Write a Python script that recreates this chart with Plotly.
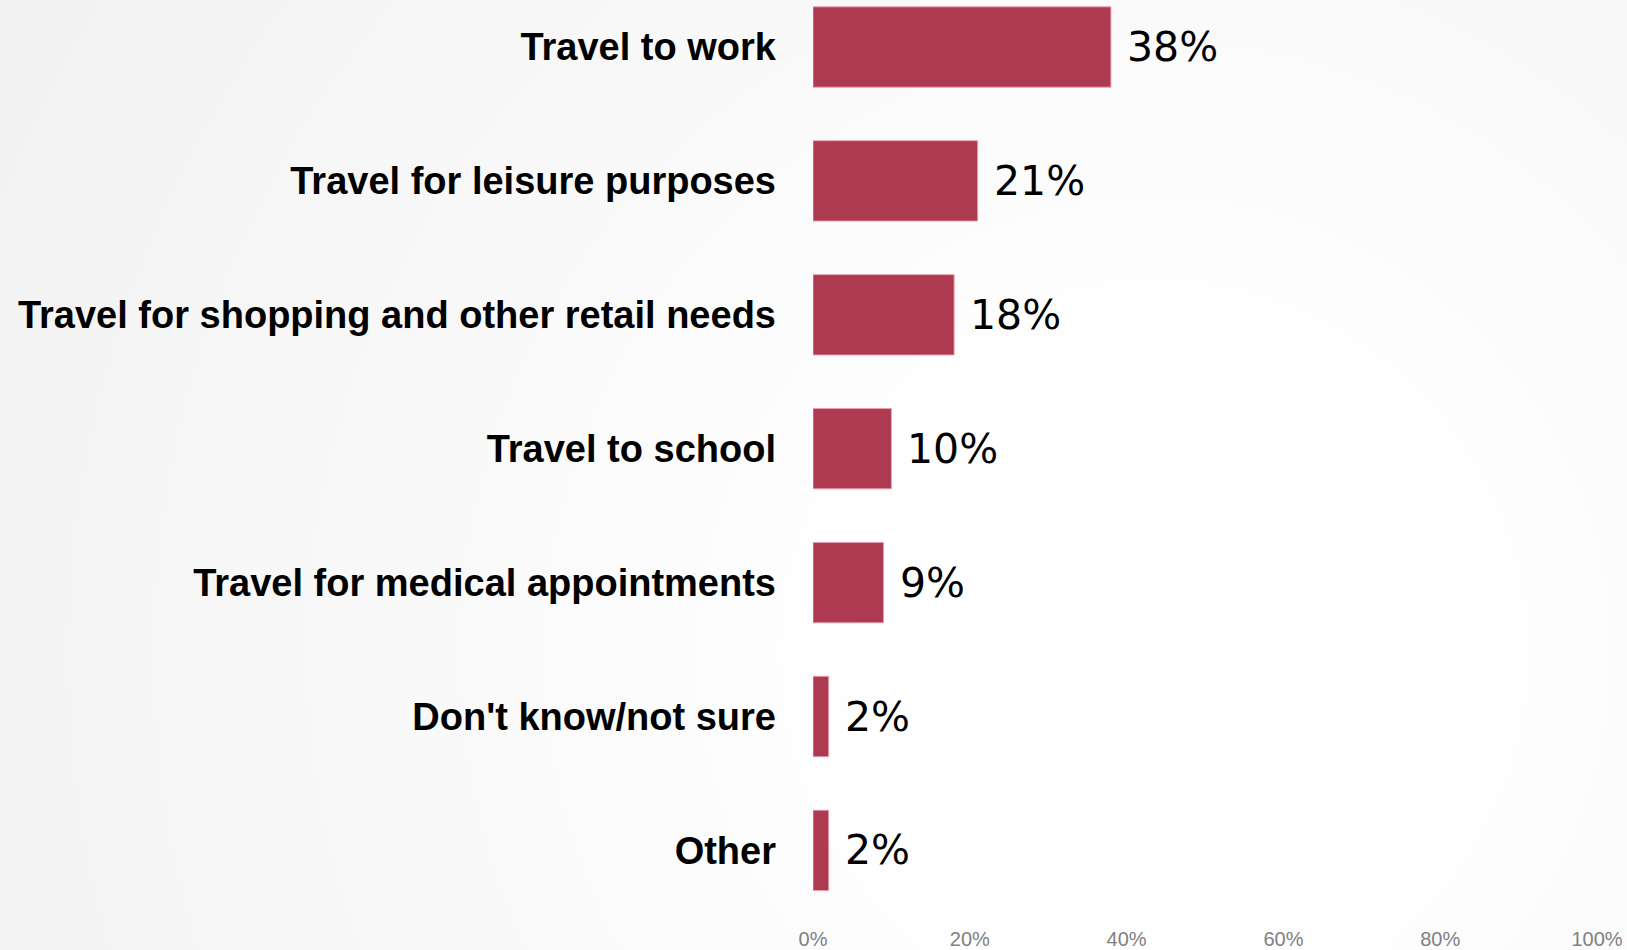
import base64
import struct
import zlib

import numpy as np
import plotly.graph_objects as go

# Survey responses: main purpose of travel
categories = [
    "Travel to work",
    "Travel for leisure purposes",
    "Travel for shopping and other retail needs",
    "Travel to school",
    "Travel for medical appointments",
    "Don't know/not sure",
    "Other",
]
shares = [38, 21, 18, 10, 9, 2, 2]
tick_values = [0, 20, 40, 60, 80, 100]
tick_labels = ["0%", "20%", "40%", "60%", "80%", "100%"]

W, H = 1627, 950
M_LEFT, M_RIGHT, M_TOP, M_BOTTOM = 813, 30, 0, 40
PLOT_W = W - M_LEFT - M_RIGHT
PLOT_H = H - M_TOP - M_BOTTOM

BAR_COLOR = "#AD3A50"


def png_data_uri(pixels):
    """Encode an (h, w) uint8 grayscale array as a PNG data URI."""
    h, w = pixels.shape
    raw = b"".join(b"\x00" + pixels[r].tobytes() for r in range(h))

    def chunk(tag, data):
        c = struct.pack(">I", len(data)) + tag + data
        return c + struct.pack(">I", zlib.crc32(tag + data) & 0xFFFFFFFF)

    png = b"\x89PNG\r\n\x1a\n"
    png += chunk(b"IHDR", struct.pack(">IIBBBBB", w, h, 8, 0, 0, 0, 0))
    png += chunk(b"IDAT", zlib.compress(raw, 9))
    png += chunk(b"IEND", b"")
    return "data:image/png;base64," + base64.b64encode(png).decode()


# soft radial backdrop, white toward the right, light grey toward the left
gw, gh = W // 4, H // 4
yy, xx = np.mgrid[0:gh, 0:gw] * 4.0
dist = np.hypot(xx - 1150, yy - 650)
shade = 255 - 11.5 * np.clip((dist - 300) / 900, 0, 1.3)
backdrop = png_data_uri(np.clip(shade, 0, 255).astype(np.uint8))

fig = go.Figure(
    go.Bar(
        x=shares,
        y=categories,
        orientation="h",
        marker=dict(color=BAR_COLOR, line=dict(color="rgba(235,160,175,0.9)", width=1)),
        hoverinfo="x+y",
    )
)

for cat, val in zip(categories, shares):
    fig.add_annotation(
        x=val,
        y=cat,
        text=f"{val}%",
        showarrow=False,
        xanchor="left",
        yanchor="middle",
        xshift=14,
        font=dict(family="DejaVu Sans, Liberation Sans, sans-serif", size=41, color="#000000"),
    )

px_per_row = 133.9
first_center = 47
y_top = -first_center / px_per_row
y_bottom = y_top + PLOT_H / px_per_row

fig.add_layout_image(
    dict(
        source=backdrop,
        xref="paper",
        yref="paper",
        x=-M_LEFT / PLOT_W,
        y=1 + M_TOP / PLOT_H,
        sizex=W / PLOT_W,
        sizey=H / PLOT_H,
        sizing="stretch",
        xanchor="left",
        yanchor="top",
        layer="below",
    )
)

fig.update_layout(
    width=W,
    height=H,
    margin=dict(l=M_LEFT, r=M_RIGHT, t=M_TOP, b=M_BOTTOM, pad=0),
    paper_bgcolor="#ffffff",
    plot_bgcolor="rgba(0,0,0,0)",
    bargap=0.4,
    showlegend=False,
    xaxis=dict(
        range=[0, 100],
        tickvals=tick_values,
        ticktext=tick_labels,
        showgrid=False,
        zeroline=False,
        showline=False,
        ticks="",
        automargin=False,
        ticklabelstandoff=15,
        tickfont=dict(family="Liberation Sans, Arial, sans-serif", size=20, color="#808080"),
        fixedrange=True,
    ),
    yaxis=dict(
        type="category",
        categoryorder="array",
        categoryarray=categories,
        range=[y_bottom, y_top],
        showgrid=False,
        zeroline=False,
        showline=False,
        ticks="",
        automargin=False,
        ticklabelstandoff=36,
        tickfont=dict(family="Liberation Sans, Arial, sans-serif", size=38, color="#000000", weight="bold"),
        fixedrange=True,
    ),
)

fig.write_html("out.html")
